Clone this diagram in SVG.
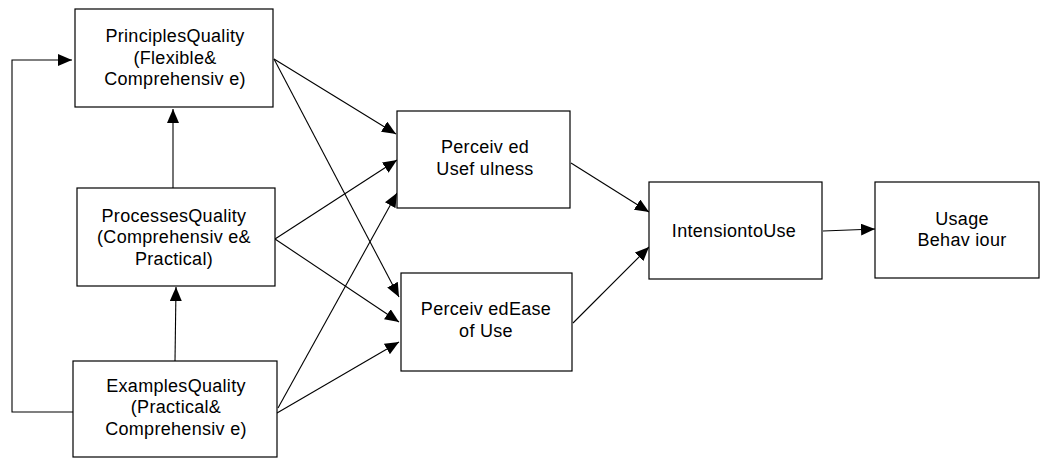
<svg xmlns="http://www.w3.org/2000/svg" width="1040" height="458" viewBox="0 0 1040 458">
<style>
.box{fill:#fff;stroke:#000;stroke-width:1.2}
.t{font-family:"Liberation Sans",Arial,sans-serif;font-size:18px;fill:#000;text-anchor:middle;letter-spacing:0.3px}
.c{fill:none;stroke:#000;stroke-width:1.1}
</style>
<defs>
<marker id="ah" markerUnits="userSpaceOnUse" markerWidth="15" markerHeight="12" refX="14" refY="6" orient="auto">
<path d="M0,0 L14,6 L0,12 Z" fill="#000"/>
</marker>
</defs>
<rect width="1040" height="458" fill="#fff"/>
<g id="connectors">
<polyline class="c" points="73,412 12,412 12,60 72,60" marker-end="url(#ah)"/>
<line class="c" x1="173" y1="188" x2="173" y2="109" marker-end="url(#ah)"/>
<line class="c" x1="175" y1="361" x2="176" y2="287" marker-end="url(#ah)"/>
<line class="c" x1="274" y1="59" x2="396" y2="134" marker-end="url(#ah)"/>
<line class="c" x1="274" y1="59" x2="399" y2="297" marker-end="url(#ah)"/>
<line class="c" x1="275" y1="239" x2="397" y2="160" marker-end="url(#ah)"/>
<line class="c" x1="275" y1="239" x2="399" y2="322" marker-end="url(#ah)"/>
<line class="c" x1="278" y1="408" x2="397" y2="193" marker-end="url(#ah)"/>
<line class="c" x1="277" y1="413" x2="399" y2="342" marker-end="url(#ah)"/>
<line class="c" x1="571" y1="163" x2="649" y2="212" marker-end="url(#ah)"/>
<line class="c" x1="573" y1="323" x2="649" y2="247" marker-end="url(#ah)"/>
<line class="c" x1="823" y1="231" x2="875" y2="229" marker-end="url(#ah)"/>
</g>
<g id="principles">
<rect class="box" x="75" y="9" width="198" height="98"/>
<text class="t" x="175" y="42">PrinciplesQuality</text>
<text class="t" x="175" y="63.5">(Flexible&amp;</text>
<text class="t" x="175" y="85">Comprehensiv e)</text>
</g>
<g id="processes">
<rect class="box" x="77" y="188" width="198" height="98"/>
<text class="t" x="174" y="222">ProcessesQuality</text>
<text class="t" x="174" y="243">(Comprehensiv e&amp;</text>
<text class="t" x="174" y="265">Practical)</text>
</g>
<g id="examples">
<rect class="box" x="73" y="361" width="204" height="96"/>
<text class="t" x="176" y="392">ExamplesQuality</text>
<text class="t" x="176" y="413">(Practical&amp;</text>
<text class="t" x="176" y="435">Comprehensiv e)</text>
</g>
<g id="usefulness">
<rect class="box" x="397" y="111" width="173" height="97"/>
<text class="t" x="485" y="153">Perceiv ed</text>
<text class="t" x="485" y="175">Usef ulness</text>
</g>
<g id="ease">
<rect class="box" x="401" y="273" width="171" height="98"/>
<text class="t" x="486" y="315">Perceiv edEase</text>
<text class="t" x="486" y="337">of Use</text>
</g>
<g id="intension">
<rect class="box" x="649" y="182" width="173" height="97"/>
<text class="t" x="734" y="237">IntensiontoUse</text>
</g>
<g id="usage">
<rect class="box" x="875" y="182" width="164" height="96"/>
<text class="t" x="962" y="225">Usage</text>
<text class="t" x="962" y="246">Behav iour</text>
</g>
</svg>
